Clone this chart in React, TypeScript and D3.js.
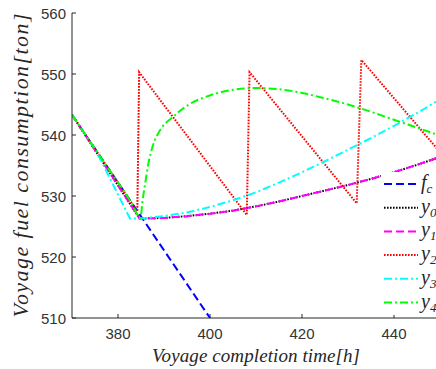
import React from 'react';
import * as d3 from 'd3';

// series
const fcX = [370, 400, 412];
const fcY = [543.3, 510, 496.7];

const y0X = [370, 384.7, 390, 395, 400, 405, 410, 415, 420, 425, 430, 435, 440, 445, 450];
const y0Y = [543.3, 526.3, 526.4, 526.7, 527.1, 527.6, 528.3, 529.1, 530.0, 530.9, 531.8, 532.8, 533.9, 535.1, 536.4];

const y1X = [370, 384.7, 390, 395, 400, 405, 410, 415, 420, 425, 430, 435, 440, 445, 450];
const y1Y = [543.3, 526.3, 526.4, 526.7, 527.1, 527.6, 528.3, 529.1, 530.0, 530.9, 531.8, 532.8, 533.9, 535.1, 536.4];

const y2X = [370, 384.2, 384.6, 408.0, 408.6, 431.9, 432.9, 450];
const y2Y = [543.3, 527.5, 550.3, 526.9, 550.3, 528.8, 552.3, 537.2];

const y3X = [370, 375.2, 382.6, 384.8, 390, 395, 400, 405, 410, 415, 420, 425, 430, 435, 440, 445, 450];
const y3Y = [543.3, 537.5, 526.3, 526.3, 526.7, 527.3, 528.2, 529.3, 530.6, 532.2, 533.9, 535.7, 537.6, 539.5, 541.5, 543.6, 545.8];

const y4X = [370, 377, 383, 384.9, 385.3, 385.9, 386.6, 387.6, 389, 392, 395, 400, 405, 410, 415, 420, 425, 430, 435, 440, 445, 450];
const y4Y = [543.3, 535.5, 528.8, 526.4, 529.0, 532.0, 535.3, 538.3, 540.6, 543.0, 544.8, 546.5, 547.4, 547.7, 547.5, 546.9, 546.0, 545.0, 543.8, 542.5, 541.2, 539.9];

const xTicks = [380, 400, 420, 440];
const yTicks = [510, 520, 530, 540, 550, 560];
const legendNames = ['f', 'y', 'y', 'y', 'y', 'y'];
const legendSubs = ['c', '0', '1', '2', '3', '4'];

const axisColor = '#262626';
const serif = "'Liberation Serif', 'Times New Roman'";
const sans = "'Liberation Sans'";

const x = d3.scaleLinear().domain([370, 450]).range([72, 440]);
const y = d3.scaleLinear().domain([510, 560]).range([318, 13]);

const series = [
  { xs: fcX, ys: fcY, color: '#0000ff', dash: '8,4', curve: d3.curveLinear },
  { xs: y0X, ys: y0Y, color: '#000000', dash: '1.6,1.4', curve: d3.curveLinear },
  { xs: y1X, ys: y1Y, color: '#ff00ff', dash: '8,4', curve: d3.curveLinear },
  { xs: y2X, ys: y2Y, color: '#ff0000', dash: '1.6,1.4', curve: d3.curveLinear },
  { xs: y3X, ys: y3Y, color: '#00ffff', dash: '8,3,2,3', curve: d3.curveLinear },
  { xs: y4X, ys: y4Y, color: '#00ff00', dash: '8,3,2,3', curve: d3.curveMonotoneX },
];

function pathFor(s) {
  const line = d3.line<number>()
    .x(i => x(s.xs[i]))
    .y(i => y(s.ys[i]))
    .curve(s.curve);
  return line(d3.range(s.xs.length)) || '';
}

export default function App() {
  return (
    <svg width={436} height={369}
      style={{ position: 'absolute', left: 0, top: 0, background: '#fff' }}>
      {/* upright serif first, so the serif face is picked up */}
      <text x={2} y={366} fontSize={3} fill="#fff" style={{ fontFamily: serif }}>h</text>

      <clipPath id="plotclip">
        <rect x={72} y={13} width={368} height={305} />
      </clipPath>

      <g clipPath="url(#plotclip)">
        {series.map((s, i) => (
          <path key={i} d={pathFor(s)} fill="none" stroke={s.color}
            strokeWidth={2} strokeDasharray={s.dash} />
        ))}
      </g>

      {/* axes */}
      <g stroke={axisColor} strokeWidth={1}>
        <line x1={72} x2={72} y1={13} y2={318} />
        <line x1={72} x2={440} y1={318} y2={318} />
        {xTicks.map(t => <line key={t} x1={x(t)} x2={x(t)} y1={318} y2={314} />)}
        {yTicks.map(t => <line key={t} x1={72} x2={76} y1={y(t)} y2={y(t)} />)}
      </g>

      {xTicks.map(t => (
        <text key={t} x={x(t)} y={339} textAnchor="middle" fontSize={15} fill="#333"
          style={{ fontFamily: sans }}>{t}</text>
      ))}
      {yTicks.map(t => (
        <text key={t} x={66} y={y(t) + 5.5} textAnchor="end" fontSize={15} fill="#333"
          style={{ fontFamily: sans }}>{t}</text>
      ))}

      {/* axis titles */}
      <text x={256} y={362} textAnchor="middle" fontSize={19} fontStyle="italic"
        fill={axisColor} textLength={208} lengthAdjust="spacing"
        style={{ fontFamily: serif }}>
        Voyage completion time[h]
      </text>
      <text transform="translate(28,165.5) rotate(-90)" x={0} y={0} textAnchor="middle"
        fontSize={22} fontStyle="italic" fill={axisColor} textLength={304} lengthAdjust="spacing"
        style={{ fontFamily: serif }}>
        Voyage fuel consumption[ton]
      </text>

      {/* legend */}
      <g>
        <rect x={381} y={172} width={60} height={143} fill="#fff" />
        {series.map((s, i) => {
          const cy = 184 + i * 23.7;
          return (
            <g key={i}>
              <line x1={384} x2={418} y1={cy} y2={cy} stroke={s.color} strokeWidth={2}
                strokeDasharray={s.dash} />
              <text x={421} y={cy + 5} fontSize={20} fontStyle="italic" fill={axisColor}
                style={{ fontFamily: serif }}>
                {legendNames[i]}
                <tspan dy={4} fontSize={13}>{legendSubs[i]}</tspan>
              </text>
            </g>
          );
        })}
      </g>
    </svg>
  );
}
